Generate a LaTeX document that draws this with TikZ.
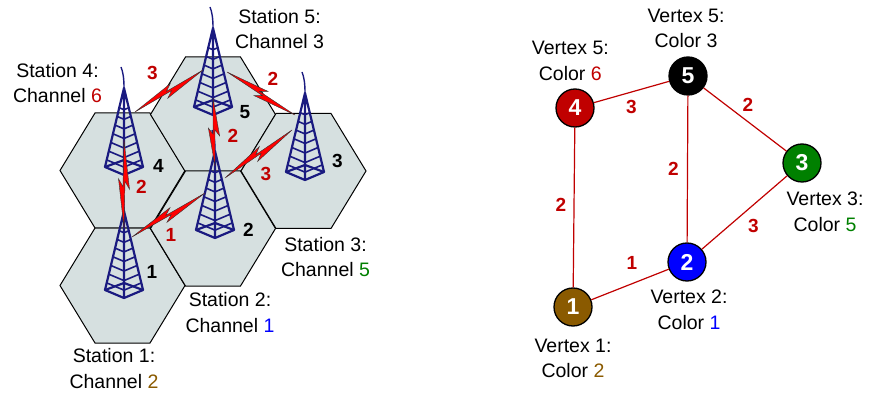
\documentclass[tikz,border=0pt]{standalone}
\usepackage{fontspec}
\setmainfont{Liberation Sans}
\usetikzlibrary{calc}
\definecolor{wred}{HTML}{C00000}
\definecolor{wgreen}{HTML}{008000}
\definecolor{wblue}{HTML}{0000FF}
\definecolor{wbrown}{HTML}{8A5A00}
\definecolor{cellfill}{HTML}{D6E0E0}
\definecolor{mastblue}{HTML}{1A1A80}

% lightning bolt between two named points
\newcommand{\bolt}[2]{%
  \filldraw[bolt] (#1) -- ($(#1)!0.56!(#2)!5.5pt!90:(#2)$)
    -- ($(#1)!0.47!(#2)!1pt!90:(#2)$) -- (#2)
    -- ($(#1)!0.44!(#2)!5.5pt!-90:(#2)$)
    -- ($(#1)!0.53!(#2)!1pt!-90:(#2)$) -- cycle;}

\tikzset{
  cell/.pic={
    \draw[cellbox] (-62.5,0) -- (-27.5,-57.5) -- (27.5,-57.5) -- (62.5,0)
      -- (27.5,57.5) -- (-27.5,57.5) -- cycle;
  },
  tower/.pic={
    % legs and base
    \draw[mast] (-19,-8) -- (0,-87) -- (19,-8) (0,-87) -- (0,0);
    \draw[mast] (-19,-8) -- (0,0) -- (19,-8) -- (0,-15) -- cycle;
    % rungs
    \foreach \t in {0.25,0.36,...,0.92}
      \draw[rung] ($(0,-87)!\t!(-19,-8)$) -- ($(0,-87)!\t!(0,0)$) -- ($(0,-87)!\t!(19,-8)$);
    \draw[aerial] (0,-87) .. controls (0,-97) and (-1,-103) .. (-3,-108);
  }
}

\begin{document}
\begin{tikzpicture}[
    x=1pt, y=-1pt,
    every node/.style={font=\fontsize{19.5}{25.5}\selectfont, inner sep=0pt},
    cellbox/.style={draw=black, line width=1pt, fill=cellfill},
    mast/.style={draw=mastblue, line width=2.2pt, line join=round},
    rung/.style={draw=mastblue, line width=1.6pt},
    aerial/.style={draw=mastblue, line width=1.4pt},
    bolt/.style={fill=red, draw=black!80, line width=0.4pt, line join=miter},
    num/.style={font=\bfseries\fontsize{19}{19}\selectfont},
    lbl/.style={num, text=wred},
    caption/.style={align=center},
    vtx/.style={circle, draw=black, line width=1.3pt, minimum size=38pt,
                text=white, font=\bfseries\fontsize{23}{23}\selectfont},
    link/.style={draw=wred, line width=1.2pt}
]
  \useasboundingbox (0,0) rectangle (869,395);

  % ---- cells ----
  \pic at (122.5,285.5) {cell};
  \pic at (122.5,170.5) {cell};
  \pic at (213,114.5) {cell};
  \pic at (213,228.5) {cell};
  \pic at (303.5,171) {cell};

  % ---- towers (feet) ----
  \coordinate (t1) at (124,298);
  \coordinate (t2) at (215,238);
  \coordinate (t3) at (305,180);
  \coordinate (t4) at (124,175);
  \coordinate (t5) at (213,115);
  \foreach \s in {1,...,5}
    \pic at (t\s) {tower};

  % bolt ends
  \coordinate (e45) at (135,112);
  \coordinate (e54) at (203,70);
  \coordinate (e53) at (227,72);
  \coordinate (e35) at (295,115);
  \coordinate (e52) at (213,98);
  \coordinate (e25) at (215,166);
  \coordinate (e41) at (124,140);
  \coordinate (e14) at (124,228);
  \coordinate (e23) at (225,178);
  \coordinate (e32) at (292,130);
  \coordinate (e12) at (132,237);
  \coordinate (e21) at (205,193);

  \bolt{e45}{e54}
  \bolt{e53}{e35}
  \bolt{e52}{e25}
  \bolt{e41}{e14}
  \bolt{e23}{e32}
  \bolt{e12}{e21}

  % channel gaps
  \node[lbl] (g45) at (152.5,73) {3};
  \node[lbl] (g53) at (273,79) {2};
  \node[lbl] (g52) at (233,136) {2};
  \node[lbl] (g41) at (141.5,186.5) {2};
  \node[lbl] (g23) at (266,174) {3};
  \node[lbl] (g12) at (171,235) {1};

  % tower numbers
  \node[num] (n1) at (152,272) {1};
  \node[num] (n2) at (248.5,230) {2};
  \node[num] (n3) at (337.5,160.5) {3};
  \node[num] (n4) at (158.5,166) {4};
  \node[num] (n5) at (245,112) {5};

  % station captions
  \node[caption] (s1) at (114,368.4) {Station 1:\\Channel {\color{wbrown}2}};
  \node[caption] (s2) at (230,312.5) {Station 2:\\Channel {\color{wblue}1}};
  \node[caption] (s3) at (325.5,256.8) {Station 3:\\Channel {\color{wgreen}5}};
  \node[caption] (s4) at (57.5,82.8) {Station 4:\\Channel {\color{wred}6}};
  \node[caption] (s5) at (279.5,28.8) {Station 5:\\Channel 3};

  % ---- conflict graph ----
  \node[vtx, fill=wbrown] (v1) at (573,307) {1};
  \node[vtx, fill=wblue]  (v2) at (687,262) {2};
  \node[vtx, fill=wgreen] (v3) at (802,163) {3};
  \node[vtx, fill=wred]   (v4) at (575,108) {4};
  \node[vtx, fill=black]  (v5) at (688,76)  {5};

  \draw[link] (v4) -- node[lbl, yshift=-14.5pt] {3} (v5);
  \draw[link] (v5) -- node[lbl, xshift=3pt, yshift=14.5pt] {2} (v3);
  \draw[link] (v5) -- node[lbl, xshift=-14pt] {2} (v2);
  \draw[link] (v4) -- node[lbl, xshift=-13pt, yshift=3pt] {2} (v1);
  \draw[link] (v1) -- node[lbl, xshift=2pt, yshift=21.5pt] {1} (v2);
  \draw[link] (v2) -- node[lbl, xshift=9pt, yshift=-13pt] {3} (v3);

  \node[caption] (c1) at (573,358.4) {Vertex 1:\\Color {\color{wbrown}2}};
  \node[caption] (c2) at (689,309.8) {Vertex 2:\\Color {\color{wblue}1}};
  \node[caption] (c3) at (825,211.8) {Vertex 3:\\Color {\color{wgreen}5}};
  \node[caption] (c4) at (570.3,60.8) {Vertex 5:\\Color {\color{wred}6}};
  \node[caption] (c5) at (686,28.4) {Vertex 5:\\Color 3};
\end{tikzpicture}
\end{document}
